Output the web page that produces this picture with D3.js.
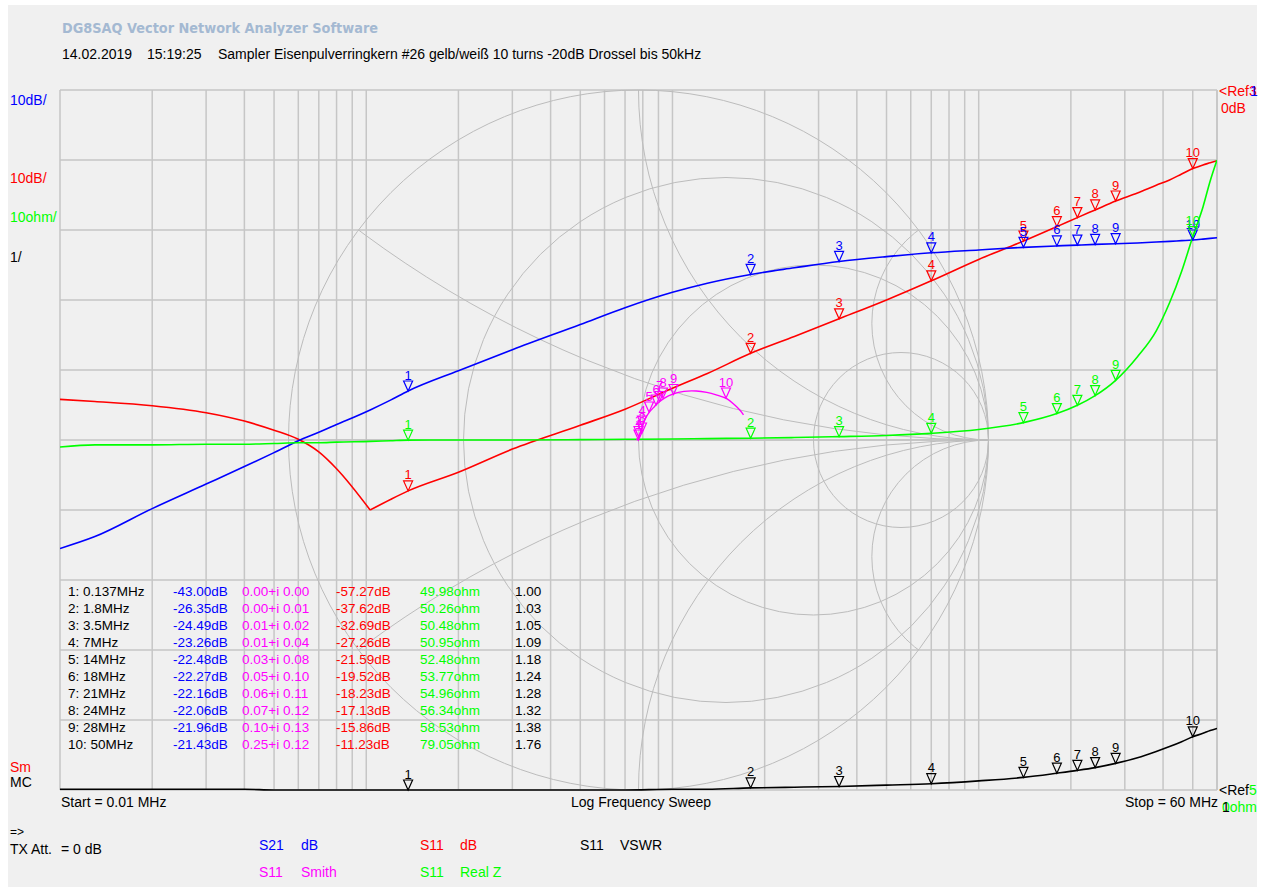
<!DOCTYPE html>
<html>
<head>
<meta charset="utf-8">
<script src="https://cdn.jsdelivr.net/npm/d3@7"></script>
<style>
  body { margin: 0; background: #ffffff; }
  svg { display: block; }
  text { font-family: "Liberation Sans", Arial, sans-serif; }
</style>
</head>
<body>
<svg id="chart" width="1270" height="892"></svg>
<script>
// ---- sweep data (log sweep 0.01 .. 60 MHz) ----
const freqMHz = [0.01, 0.013, 0.02, 0.03, 0.04, 0.05, 0.06, 0.07, 0.08, 0.103, 0.12, 0.137,
  0.2, 0.3, 0.5, 0.7, 1, 1.3, 1.8, 2.5, 3.5, 5, 7, 10, 14, 18, 21, 24, 28,
  33, 38, 42, 46, 50, 54, 57, 60];

// S21 magnitude, dB
const s21dB = [-65.5, -63.8, -59.8, -56.3, -53.8, -51.8, -50.1, -48.9, -47.8, -45.7, -44.3, -43.0,
  -40.1, -37.1, -33.5, -31.1, -28.9, -27.6, -26.35, -25.4, -24.49, -23.8, -23.26, -22.85, -22.48,
  -22.27, -22.16, -22.06, -21.96, -21.85, -21.72, -21.62, -21.52, -21.43, -21.3, -21.2, -21.1];

// S11 magnitude, dB
const s11dB = [-44.2, -44.5, -45.1, -46.1, -47.3, -48.6, -49.9, -51.7, -54.1, -60.0, -58.5, -57.27,
  -54.6, -51.3, -47.9, -45.6, -42.6, -40.5, -37.62, -35.2, -32.69, -30.0, -27.26, -24.2, -21.59,
  -19.52, -18.23, -17.13, -15.86, -14.7, -13.6, -12.85, -12.0, -11.23, -10.7, -10.4, -10.1];

// S11 real part of Z, ohm
const realZ = [49.0, 49.3, 49.3, 49.4, 49.4, 49.5, 49.6, 49.6, 49.7, 49.8, 49.9, 49.98,
  50.0, 50.0, 50.05, 50.1, 50.15, 50.2, 50.26, 50.35, 50.48, 50.65, 50.95, 51.5, 52.48,
  53.77, 54.96, 56.34, 58.53, 61.9, 65.6, 69.6, 74.1, 79.05, 83.3, 87.0, 90.0];

// S11 VSWR
const vswr = [1.01, 1.01, 1.01, 1.01, 1.01, 1.0, 1.0, 1.0, 1.0, 1.0, 1.0, 1.0,
  1.0, 1.0, 1.0, 1.0, 1.01, 1.01, 1.03, 1.04, 1.05, 1.07, 1.09, 1.13, 1.18,
  1.24, 1.28, 1.32, 1.38, 1.46, 1.55, 1.62, 1.69, 1.76, 1.81, 1.85, 1.88];

// S11 reflection coefficient (Smith chart)
const smithRe = [-0.005, -0.005, -0.005, -0.004, -0.004, -0.003, -0.003, -0.002, -0.002, -0.001, -0.001, 0.000,
  0.000, 0.000, 0.000, 0.001, 0.001, 0.002, 0.003, 0.004, 0.006, 0.008, 0.012, 0.018, 0.030,
  0.046, 0.058, 0.073, 0.098, 0.130, 0.165, 0.195, 0.222, 0.252, 0.275, 0.290, 0.300];
const smithIm = [0.003, 0.003, 0.002, 0.002, 0.001, 0.001, 0.001, 0.001, 0.001, 0.000, 0.001, 0.001,
  0.002, 0.003, 0.004, 0.006, 0.008, 0.010, 0.013, 0.017, 0.022, 0.030, 0.041, 0.058, 0.078,
  0.096, 0.108, 0.119, 0.131, 0.139, 0.140, 0.136, 0.129, 0.118, 0.100, 0.085, 0.072];

// ---- markers ----
const markerFreq = [0.137, 1.8, 3.5, 7, 14, 18, 21, 24, 28, 50];
const mkS21 = [-43.00, -26.35, -24.49, -23.26, -22.48, -22.27, -22.16, -22.06, -21.96, -21.43];
const mkRe = [0.00, 0.00, 0.01, 0.01, 0.03, 0.05, 0.06, 0.07, 0.10, 0.25];
const mkIm = [0.00, 0.01, 0.02, 0.04, 0.08, 0.10, 0.11, 0.12, 0.13, 0.12];
const mkS11 = [-57.27, -37.62, -32.69, -27.26, -21.59, -19.52, -18.23, -17.13, -15.86, -11.23];
const mkZ = [49.98, 50.26, 50.48, 50.95, 52.48, 53.77, 54.96, 56.34, 58.53, 79.05];
const mkVSWR = [1.00, 1.03, 1.05, 1.09, 1.18, 1.24, 1.28, 1.32, 1.38, 1.76];

// ---- colours ----
const C = { s21: "#0000ff", s11: "#ff0000", z: "#00ff00", smith: "#ff00ff", vswr: "#000000",
            grid: "#c6c6c6", smithGrid: "#bcbcbc", bg: "#f0f0f0" };

const svg = d3.select("#chart");
const L = 60, R = 1217, T = 90, B = 790;

svg.append("rect").attr("width", 1270).attr("height", 892).attr("fill", "#ffffff");
svg.append("rect").attr("x", 8).attr("y", 5).attr("width", 1249).attr("height", 882).attr("fill", C.bg);

// ---- scales ----
const x = d3.scaleLog().domain([0.01, 60]).range([L, R]);
const yDb = d3.scaleLinear().domain([-100, 0]).range([B, T]);      // 10 dB/div, ref 0 dB at top
const yOhm = d3.scaleLinear().domain([0, 100]).range([B, T]);      // 10 ohm/div, ref 0 ohm at bottom
const yVswr = d3.scaleLinear().domain([1, 11]).range([B, T]);      // 1/div, ref 1 at bottom
const sR = (B - T) / 2;
const sx = d3.scaleLinear().domain([-1, 1]).range([(L + R) / 2 - sR, (L + R) / 2 + sR]);
const sy = d3.scaleLinear().domain([-1, 1]).range([B, T]);

const defs = svg.append("defs");
defs.append("clipPath").attr("id", "plotClip").append("rect")
  .attr("x", L).attr("y", T - 1).attr("width", R - L).attr("height", B - T + 2);
defs.append("clipPath").attr("id", "smithClip").append("circle")
  .attr("cx", sx(0)).attr("cy", sy(0)).attr("r", sR);

// ---- rectangular grid ----
const grid = svg.append("g").attr("stroke", C.grid).attr("stroke-width", 1.5).attr("fill", "none");
grid.selectAll("line.v").data(x.ticks()).join("line")
  .attr("x1", d => x(d)).attr("x2", d => x(d)).attr("y1", T).attr("y2", B);
grid.selectAll("line.h").data(yOhm.ticks(10)).join("line")
  .attr("x1", L).attr("x2", R).attr("y1", d => yOhm(d)).attr("y2", d => yOhm(d));
grid.append("line").attr("x1", R).attr("x2", R).attr("y1", T).attr("y2", B);

// ---- Smith chart grid ----
const sg = svg.append("g").attr("stroke", C.smithGrid).attr("stroke-width", 1).attr("fill", "none");
sg.append("circle").attr("cx", sx(0)).attr("cy", sy(0)).attr("r", sR);
[1 / 3, 1, 3].forEach(r => {
  sg.append("circle").attr("cx", sx(r / (1 + r))).attr("cy", sy(0)).attr("r", sR / (1 + r));
});
const arcs = sg.append("g").attr("clip-path", "url(#smithClip)");
[1 / 3, 1, 3, -1 / 3, -1, -3].forEach(xr => {
  arcs.append("circle").attr("cx", sx(1)).attr("cy", sy(1 / xr)).attr("r", sR / Math.abs(xr));
});
sg.append("line").attr("x1", sx(-1)).attr("x2", sx(1)).attr("y1", sy(0)).attr("y2", sy(0));

// ---- traces ----
const traces = svg.append("g").attr("clip-path", "url(#plotClip)").attr("fill", "none")
  .attr("stroke-width", 1.6).attr("stroke-linejoin", "round");
const idx = d3.range(freqMHz.length);
const lineOf = (vals, ys, ids = idx) => d3.line().curve(d3.curveMonotoneX)
  .x(i => x(freqMHz[i])).y(i => ys(vals[i]))(ids);

// the S11 notch is a sharp dip: draw both flanks separately so the minimum stays pointed
const notch = d3.minIndex(s11dB);
traces.append("path").attr("d", lineOf(s11dB, yDb, idx.slice(0, notch + 1))).attr("stroke", C.s11);
traces.append("path").attr("d", lineOf(s11dB, yDb, idx.slice(notch))).attr("stroke", C.s11);
traces.append("path").attr("d", lineOf(s21dB, yDb)).attr("stroke", C.s21);
traces.append("path").attr("d", lineOf(realZ, yOhm)).attr("stroke", C.z);
traces.append("path").attr("d", lineOf(vswr, yVswr)).attr("stroke", C.vswr);
traces.append("path")
  .attr("d", d3.line().curve(d3.curveCatmullRom).x(i => sx(smithRe[i])).y(i => sy(smithIm[i]))(idx))
  .attr("stroke", C.smith).attr("stroke-width", 1.4);

// ---- marker symbols ----
const mk = svg.append("g");
function marker(px, py, label, color) {
  mk.append("path")
    .attr("d", `M${px - 4.5},${py - 10}L${px + 4.5},${py - 10}L${px},${py}Z`)
    .attr("fill", "none").attr("stroke", color).attr("stroke-width", 1.2);
  mk.append("text").attr("x", px).attr("y", py - 11.5).attr("text-anchor", "middle")
    .attr("font-size", 13).attr("fill", color).text(label);
}
markerFreq.forEach((f, i) => marker(x(f), yDb(mkS11[i]), i + 1, C.s11));
markerFreq.forEach((f, i) => marker(x(f), yDb(mkS21[i]), i + 1, C.s21));
markerFreq.forEach((f, i) => marker(x(f), yVswr(mkVSWR[i]), i + 1, C.vswr));
markerFreq.forEach((f, i) => marker(sx(mkRe[i]), sy(mkIm[i]), i + 1, C.smith));
markerFreq.forEach((f, i) => marker(x(f), yOhm(mkZ[i]), i + 1, C.z));

// ---- header ----
svg.append("text").attr("x", 62).attr("y", 32.5)
  .style("font-family", "'DejaVu Sans', Verdana, sans-serif").attr("font-weight", "bold")
  .attr("font-size", 14).attr("fill", "#a4b9d2")
  .attr("textLength", 316).attr("lengthAdjust", "spacingAndGlyphs")
  .text("DG8SAQ Vector Network Analyzer Software");
const hdr = [[62, "14.02.2019"], [147, "15:19:25"],
  [218, "Sampler Eisenpulverringkern #26 gelb/weiß 10 turns -20dB Drossel bis 50kHz"]];
hdr.forEach(([hx, t]) => svg.append("text").attr("x", hx).attr("y", 58.5)
  .attr("font-size", 14).attr("fill", "#000").text(t));

// ---- scale labels (left) ----
const leftLabels = [[105, "10dB/", C.s21], [183, "10dB/", C.s11], [222, "10ohm/", C.z],
  [262, "1/", "#000"], [771.5, "Sm", C.s11], [786.5, "MC", "#000"]];
leftLabels.forEach(([ly, t, c]) => svg.append("text").attr("x", 10).attr("y", ly)
  .attr("font-size", 14).attr("fill", c).text(t));

// ---- reference labels (right) ----
const refTop = svg.append("text").attr("x", 1219).attr("y", 96).attr("font-size", 14)
  .attr("fill", C.s11).text("<Ref");
const refW = refTop.node().getComputedTextLength();
svg.append("text").attr("x", 1219 + refW).attr("y", 96).attr("font-size", 14).attr("fill", C.s11).text("3");
svg.append("text").attr("x", 1219 + refW + 1).attr("y", 96).attr("font-size", 14).attr("fill", C.s21).text("1");
svg.append("text").attr("x", 1221).attr("y", 113).attr("font-size", 14).attr("fill", C.s11).text("0dB");

svg.append("text").attr("x", 1219).attr("y", 795).attr("font-size", 14).attr("fill", "#000").text("<Ref");
svg.append("text").attr("x", 1219 + refW).attr("y", 795).attr("font-size", 14).attr("fill", C.z).text("5");
svg.append("text").attr("x", 1222).attr("y", 812).attr("font-size", 14).attr("fill", C.z).text("0ohm");
svg.append("text").attr("x", 1222).attr("y", 812).attr("font-size", 14).attr("fill", "#000").text("1");

// ---- sweep labels ----
svg.append("text").attr("x", 61).attr("y", 807).attr("font-size", 14).text("Start = 0.01 MHz");
svg.append("text").attr("x", 571).attr("y", 807).attr("font-size", 14).text("Log Frequency Sweep");
svg.append("text").attr("x", 1218).attr("y", 807).attr("font-size", 14).attr("text-anchor", "end").text("Stop = 60 MHz");

// ---- marker table ----
const cols = [
  { x: 68, c: "#000", f: (i) => `${i + 1}: ${markerFreq[i]}MHz` },
  { x: 173, c: C.s21, f: (i) => `${mkS21[i].toFixed(2)}dB` },
  { x: 242, c: C.smith, f: (i) => `${mkRe[i].toFixed(2)}+i ${mkIm[i].toFixed(2)}` },
  { x: 336, c: C.s11, f: (i) => `${mkS11[i].toFixed(2)}dB` },
  { x: 420, c: C.z, f: (i) => `${mkZ[i].toFixed(2)}ohm` },
  { x: 515, c: "#000", f: (i) => mkVSWR[i].toFixed(2) }
];
const table = svg.append("g").attr("font-size", 13.5);
markerFreq.forEach((f, i) => {
  cols.forEach(col => table.append("text").attr("x", col.x).attr("y", 596 + 17 * i)
    .attr("fill", col.c).text(col.f(i)));
});

// ---- trace legend ----
svg.append("text").attr("x", 10).attr("y", 836).attr("font-size", 12).text("=>");
svg.append("text").attr("x", 10).attr("y", 854).attr("font-size", 14).text("TX Att.");
svg.append("text").attr("x", 61).attr("y", 854).attr("font-size", 14).text("= 0 dB");
const legend = [
  [259, 301, 850, "S21", "dB", C.s21], [420, 460, 850, "S11", "dB", C.s11],
  [580, 620, 850, "S11", "VSWR", "#000"],
  [259, 301, 877, "S11", "Smith", C.smith], [420, 460, 877, "S11", "Real Z", C.z]
];
legend.forEach(([x1, x2, ly, a, b, c]) => {
  svg.append("text").attr("x", x1).attr("y", ly).attr("font-size", 14).attr("fill", c).text(a);
  svg.append("text").attr("x", x2).attr("y", ly).attr("font-size", 14).attr("fill", c).text(b);
});
</script>
</body>
</html>
